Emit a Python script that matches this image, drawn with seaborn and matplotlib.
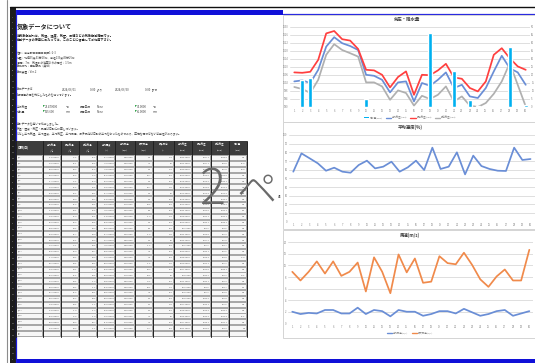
import numpy as np
import pandas as pd
import matplotlib
matplotlib.use("Agg")
import matplotlib.pyplot as plt
import seaborn as sns
from matplotlib.patches import Rectangle, Polygon, Patch
from matplotlib.lines import Line2D

sns.set_theme(style="white")
plt.rcParams['font.family'] = ['Noto Sans CJK JP', 'DejaVu Sans']

W, H = 535, 363

# ---- daily observations, June ----
days = list(range(1, 31))
pressure_max = [1007.3, 1007.1, 1007.6, 1013.6, 1026.8, 1028.0, 1023.9, 1023.2, 1019.0, 1008.6,
                1008.3, 1006.1, 999.8, 1005.0, 1007.8, 996.1, 1006.1, 1005.9, 1008.3, 1011.6,
                1004.8, 1004.1, 999.5, 997.8, 1002.8, 1016.1, 1019.4, 1014.4, 1010.3, 1008.6]
pressure_avg = [1002.8, 1003.3, 1002.0, 1008.6, 1020.2, 1024.9, 1021.9, 1020.5, 1018.5, 1006.1,
                1005.6, 1003.6, 997.3, 1002.3, 1002.8, 992.8, 1002.0, 1000.6, 1003.6, 1007.3,
                999.5, 1001.1, 995.3, 994.5, 999.5, 1007.8, 1015.6, 1009.4, 1007.3, 1001.1]
pressure_min = [1000.0, 999.0, 997.0, 1003.6, 1016.1, 1021.4, 1018.5, 1016.9, 1015.2, 1002.3,
                1002.3, 1000.3, 993.6, 998.3, 997.0, 990.7, 995.6, 994.0, 996.1, 1000.3,
                992.8, 995.3, 990.7, 990.0, 992.0, 996.6, 1002.8, 1011.9, 1001.1, 990.3]
rain = [0.5, 17.0, 18.0, 0.5, 0.0, 0.0, 0.0, 0.0, 0.5, 5.0,
        0.0, 0.0, 0.0, 0.0, 0.5, 0.0, 0.5, 46.0, 0.5, 0.0,
        22.2, 0.5, 4.6, 0.5, 0.0, 0.0, 0.0, 37.3, 0.0, 1.5]
humidity = [57.7, 78.8, 73.1, 67.3, 58.8, 62.3, 57.7, 56.5, 65.4, 70.4,
            61.5, 63.5, 69.2, 57.7, 62.7, 70.4, 59.6, 85.4, 60.8, 63.5,
            80.0, 54.6, 76.2, 64.2, 60.8, 58.8, 58.5, 85.4, 71.2, 72.3]
wind_avg = [2.0, 1.6, 1.8, 1.7, 2.3, 2.3, 1.7, 1.7, 2.7, 1.6,
            2.3, 2.1, 1.2, 2.3, 2.0, 2.0, 1.3, 1.6, 2.1, 2.1,
            1.7, 2.5, 1.9, 1.3, 1.6, 2.1, 2.3, 1.3, 1.7, 2.1]
wind_max = [8.9, 7.4, 8.9, 10.7, 8.6, 10.7, 8.2, 8.9, 10.5, 5.5,
            11.4, 8.9, 5.2, 11.9, 8.8, 11.2, 7.0, 7.2, 11.6, 10.4,
            10.2, 12.2, 10.1, 7.6, 6.3, 8.1, 9.3, 7.4, 7.4, 12.7]
temp_avg = [21.6, 22.4, 20.9, 19.8, 21.7, 22.9, 23.5, 24.1, 23.0, 21.2,
            22.6, 23.8, 24.5, 23.1, 24.0, 22.4, 23.6, 21.8, 24.7, 25.3,
            23.4, 25.8, 24.9, 23.7, 24.4, 25.6, 26.1, 23.3, 24.8, 25.2]
temp_max = [26.5, 27.1, 24.8, 23.9, 26.2, 27.5, 28.3, 29.0, 27.4, 24.6,
            27.0, 28.4, 29.2, 27.7, 28.6, 26.1, 28.0, 24.3, 29.5, 30.1,
            27.2, 30.6, 29.3, 27.9, 28.8, 30.2, 31.0, 26.4, 29.4, 29.9]
temp_min = [17.3, 18.2, 17.9, 16.4, 17.0, 18.6, 19.1, 19.8, 19.2, 18.5,
            18.3, 19.6, 20.4, 19.0, 19.9, 19.5, 19.7, 19.9, 20.3, 21.0,
            20.6, 21.4, 21.2, 20.1, 20.5, 21.3, 21.8, 21.0, 20.7, 21.1]
wind_dir = [120, 90, 120, 180, 180, 160, 90, 180, 180, 180,
            150, 180, 180, 160, 90, 180, 180, 180, 160, 180,
            90, 180, 150, 180, 180, 160, 180, 90, 180, 180]

col_titles = ["日時(日)", "平均気温", "最高気温", "最低気温", "平均湿度", "平均風速",
              "最大風速", "最多風向", "平均気圧", "最高気圧", "最低気圧", "降水量"]
col_units = ["", "(℃)", "(℃)", "(℃)", "(%)", "(m/s)", "(m/s)", "(°)",
             "(hPa)", "(hPa)", "(hPa)", "(mm)"]

chart1_title = "気圧・降水量"
chart1_labels = ["降水量(mm)", "平均気圧(hPa)", "最高気圧(hPa)", "最低気圧(hPa)"]
chart2_title = "平均湿度(%)"
chart3_title = "風速(m/s)"
chart3_labels = ["平均風速(m/s)", "最大風速(m/s)"]

# ---- figure and sheet canvas (pixel coordinates) ----
fig = plt.figure(figsize=(W / 100, H / 100), dpi=100)
fig.patch.set_facecolor("white")
sheet = fig.add_axes([0, 0, 1, 1])
sheet.set_xlim(0, W)
sheet.set_ylim(H, 0)
sheet.axis("off")


def frac(x0, y0, x1, y1):
    return [x0 / W, 1 - y1 / H, (x1 - x0) / W, (y1 - y0) / H]


def pt(px):
    return px * 0.72


# window frame
sheet.plot([7, 7], [0, H], color="#8c8c8c", lw=0.8)
sheet.add_patch(Rectangle((9.5, 7), 6, H - 7, fc="#1c1c1c", ec="none"))
for i, yy in enumerate(np.arange(17, H - 2, 5.9)):
    sheet.text(12.5, yy, str(i + 1), fontsize=1.2, color="#d0d0d0", ha="center", va="center")
sheet.plot([15.8, 15.8], [10, H], color="#1a1adc", lw=0.9)
sheet.plot([9.5, W], [6.6, 6.6], color="#101010", lw=1.0)
sheet.add_patch(Rectangle((15.5, 10.3), 283 - 15.5, 4.5, fc="#1010d8", ec="none"))
sheet.plot([283, W], [13.6, 13.6], color="#2a2ae0", lw=0.9)
sheet.add_patch(Rectangle((15.5, 359.2), W - 15.5, 3.8, fc="#1010d8", ec="none"))

# ---- text block ----
tc = "#222222"
sheet.text(17, 26, "気象データについて", fontsize=pt(6.2), fontweight="bold", color=tc, va="center")
body = ["当気象観測所は、気温、湿度、気圧、風速などの気象観測施設です。",
        "観測データの使用にあたっては、このことに留意してご利用下さい。"]
for k, line in enumerate(body):
    sheet.text(17, 34.7 + 4.6 * k, line, fontsize=pt(3.1), fontweight="bold", color=tc, va="center")
info = ["住所：東京都〇〇区〇〇町1-2-3",
        "位置：北緯35度41分28秒、東経139度45分25秒",
        "標高：7m　気温計の地面からの高さ：1.5m",
        "観測方式：自動観測（無線）",
        "観測装置：Ver.2"]
for k, line in enumerate(info):
    sheet.text(17, 52.7 + 4.6 * k, line, fontsize=pt(2.8), color="#444444", va="center")

for x, s in [(17, "観測データは"), (62, "2024/06/01"), (90, "0:00  より"),
             (115, "2024/06/30"), (145, "0:00  まで")]:
    sheet.text(x, 89.3, s, fontsize=pt(2.8), color="#444444", va="center")
sheet.text(17, 94.3, "1時間毎の値を元にしたものを使っています。", fontsize=pt(2.8),
           color="#444444", va="center")

summary = [("平均気温", f"{np.mean(temp_avg):.6f}", "℃", f"{max(temp_max):.4f}", "℃"),
           ("降水量", f"{sum(rain):.3f}", "mm", f"{max(rain):.4f}", "mm")]
for k, (lab, val, unit, mx, unit2) in enumerate(summary):
    yy = 107.3 + 5 * k
    sheet.text(17, yy, lab, fontsize=pt(2.8), color="#444444", va="center")
    sheet.add_patch(Polygon([[43, yy - 2.2], [45, yy - 2.2], [43, yy - 0.2]], fc="#1f9a3a", ec="none"))
    sheet.text(45, yy, val, fontsize=pt(2.8), color="#444444", va="center")
    sheet.text(66, yy, unit, fontsize=pt(2.8), color="#444444", va="center")
    sheet.text(80, yy, "最高日時", fontsize=pt(2.8), color="#444444", va="center")
    sheet.text(97, yy, "None", fontsize=pt(2.8), color="#444444", va="center")
    sheet.add_patch(Polygon([[135, yy - 2.2], [137, yy - 2.2], [135, yy - 0.2]], fc="#1f9a3a", ec="none"))
    sheet.text(137, yy, mx, fontsize=pt(2.8), color="#444444", va="center")
    sheet.text(153, yy, unit2, fontsize=pt(2.8), color="#444444", va="center")

notes = ["集計データを用いて作成しました。",
         "気温・湿度・気圧・風速は日別に計算しています。",
         "ただし平均気温、平均湿度、平均気圧、平均風速、最多風向は日別の平均を取ったものであり、正確な値ではない可能性があります。"]
for k, line in enumerate(notes):
    sheet.text(17, 124 + 5.2 * k, line, fontsize=pt(2.8), color="#444444", va="center")

# ---- data table ----
col_x = [16, 42.7, 60.7, 78.7, 97.3, 115.3, 134.7, 152.7, 174, 192, 210.7, 228.7, 246.7]
head_top, head_bot = 140.5, 155
row_h = 5.87
n_rows = len(days)
body_bot = head_bot + row_h * (n_rows + 1)

sheet.add_patch(Rectangle((col_x[0], head_top), col_x[-1] - col_x[0], head_bot - head_top,
                          fc="#3d3d3d", ec="none", zorder=2))
for c in range(12):
    cx = (col_x[c] + col_x[c + 1]) / 2
    if c == 0:
        sheet.text(col_x[0] + 2, (head_top + head_bot) / 2, col_titles[c], fontsize=pt(3.0),
                   color="white", va="center", fontweight="bold", zorder=3)
    else:
        sheet.text(cx, head_top + 3.8, col_titles[c], fontsize=pt(2.4), color="white",
                   ha="center", va="center", zorder=3)
        sheet.text(cx, head_top + 10, col_units[c], fontsize=pt(2.4), color="white",
                   ha="center", va="center", zorder=3)

# body: gray grid with white cell interiors
sheet.add_patch(Rectangle((col_x[0], head_bot), col_x[-1] - col_x[0], body_bot - head_bot,
                          fc="#a8a8a8", ec="none", zorder=2))
for r in range(n_rows + 1):
    y0 = head_bot + row_h * r
    for c in range(12):
        sheet.add_patch(Rectangle((col_x[c] + 0.9, y0 + 1.0), col_x[c + 1] - col_x[c] - 1.8,
                                  row_h - 1.9, fc="#f7f7f7", ec="none", zorder=3))
for x in col_x:
    sheet.plot([x, x], [head_top, body_bot], color="#202020", lw=0.7, zorder=4)

columns = [temp_avg, temp_max, temp_min, humidity, wind_avg, wind_max, wind_dir,
           pressure_avg, pressure_max, pressure_min, rain]
formats = ["{:.6f}", "{:.1f}", "{:.1f}", "{:.6f}", "{:.6f}", "{:.1f}", "{:d}",
           "{:.4f}", "{:.1f}", "{:.1f}", "{:.1f}"]
for r in range(n_rows):
    yy = head_bot + row_h * (r + 0.5)
    sheet.text(col_x[0] + 1.5, yy, f"6/{days[r]}", fontsize=pt(2.3), color="#555555",
               va="center", zorder=5)
    for c, (vals, fmt) in enumerate(zip(columns, formats)):
        sheet.text(col_x[c + 2] - 1.2, yy, fmt.format(vals[r]), fontsize=pt(2.3),
                   color="#555555", ha="right", va="center", zorder=5)
sheet.text(col_x[0] + 1.5, head_bot + row_h * (n_rows + 0.5), "計", fontsize=pt(2.3),
           color="#555555", va="center", zorder=5)

# page-break preview watermark (only the part left of the charts shows)
sheet.text(199, 203.5, "2", fontsize=35, color="#6a6a6a", fontweight="light",
           va="baseline", zorder=6)
sheet.text(236, 203.5, "ペ", fontsize=29, color="#6a6a6a", fontweight="light",
           va="baseline", zorder=6)

# chart frames
for y0, y1 in [(14.5, 121.8), (122.2, 229), (230, 337.5)]:
    sheet.add_patch(Rectangle((283, y0), 270, y1 - y0, fc="white", ec="#d4d4d4", lw=0.7, zorder=7))

grid_c = "#d9d9d9"
tick_c = "#7f7f7f"
tick_fs = pt(2.6)
lw_line = 1.25


def style_axis(ax):
    ax.set_facecolor("none")
    for s in ax.spines.values():
        s.set_visible(False)
    ax.grid(axis="y", color=grid_c, lw=0.6)
    ax.grid(axis="x", visible=False)
    ax.tick_params(length=0, labelsize=tick_fs, labelcolor=tick_c, pad=1.2)
    ax.set_xlabel("")
    ax.set_ylabel("")
    ax.set_xticks(days)
    ax.set_xticklabels([str(d) for d in days])
    ax.set_xlim(0.5, 30.5)


# ---- chart 1: pressure lines with rainfall bars ----
df1 = pd.DataFrame({"日": days, "降水量": rain, "平均気圧": pressure_avg,
                    "最高気圧": pressure_max, "最低気圧": pressure_min})
long1 = df1.melt(id_vars="日", value_vars=["平均気圧", "最高気圧", "最低気圧"],
                 var_name="系列", value_name="hPa")
c_blue, c_red, c_gray, c_cyan = "#6a8ed6", "#ff3f3f", "#b0b0b0", "#00b0f0"
ax1 = fig.add_axes(frac(290.3, 27, 529.7, 107))
sns.lineplot(data=long1, x="日", y="hPa", hue="系列", palette=[c_blue, c_red, c_gray],
             lw=lw_line, ax=ax1, legend=False)
style_axis(ax1)
ax1.set_ylim(990, 1030)
ax1.set_yticks(np.arange(990, 1031, 4))
ax1r = ax1.twinx()
sns.barplot(data=df1, x="日", y="降水量", native_scale=True, color=c_cyan, saturation=1,
            width=0.45, ax=ax1r, errorbar=None)
ax1r.set_facecolor("none")
for s in ax1r.spines.values():
    s.set_visible(False)
ax1r.set_ylim(0, 50)
ax1r.set_yticks(np.arange(0, 51, 5))
ax1r.tick_params(length=0, labelsize=tick_fs, labelcolor=tick_c, pad=1.2)
ax1r.set_ylabel("")
ax1r.set_xlim(0.5, 30.5)
ax1r.grid(False)
fig.text(407 / W, 1 - 19.5 / H, chart1_title, fontsize=pt(4.4), fontweight="bold",
         color="#404040", ha="center", va="center")
h1 = [Patch(fc=c_cyan, ec="none"), Line2D([], [], color=c_blue, lw=1),
      Line2D([], [], color=c_red, lw=1), Line2D([], [], color=c_gray, lw=1)]
fig.legend(h1, chart1_labels, loc="center", bbox_to_anchor=(410 / W, 1 - 117.5 / H), ncol=4,
           fontsize=pt(2.4), frameon=False, handlelength=2.2, handleheight=0.5,
           columnspacing=1.2, handletextpad=0.4, labelcolor="#7f7f7f")

# ---- chart 2: humidity ----
df2 = pd.DataFrame({"日": days, "平均湿度": humidity})
ax2 = fig.add_axes(frac(289.2, 135, 534.6, 221.7))
sns.lineplot(data=df2, x="日", y="平均湿度", color="#6a8ed6", lw=lw_line, ax=ax2)
style_axis(ax2)
ax2.set_ylim(0, 100)
ax2.set_yticks(np.arange(0, 101, 10))
fig.text(410 / W, 1 - 127.5 / H, chart2_title, fontsize=pt(4.4), fontweight="bold",
         color="#404040", ha="center", va="center")
fig.text(278.8 / W, 1 - 195 / H, "湿", fontsize=pt(2.4), fontweight="bold",
         color="#404040", ha="center", va="center")

# ---- chart 3: wind speed ----
df3 = pd.DataFrame({"日": days, "平均風速": wind_avg, "最大風速": wind_max})
long3 = df3.melt(id_vars="日", var_name="系列", value_name="m/s")
ax3 = fig.add_axes(frac(288.2, 242.3, 533.4, 323.3))
sns.lineplot(data=long3, x="日", y="m/s", hue="系列", palette=["#6a8ed6", "#f08a4b"],
             lw=lw_line, ax=ax3, legend=False)
style_axis(ax3)
ax3.set_ylim(0, 14)
ax3.set_yticks(np.arange(0, 15, 2))
fig.text(410 / W, 1 - 235.7 / H, chart3_title, fontsize=pt(4.4), fontweight="bold",
         color="#404040", ha="center", va="center")
h3 = [Line2D([], [], color="#6a8ed6", lw=1), Line2D([], [], color="#f08a4b", lw=1)]
fig.legend(h3, chart3_labels, loc="center", bbox_to_anchor=(410 / W, 1 - 333 / H), ncol=2,
           fontsize=pt(2.4), frameon=False, handlelength=2.2, columnspacing=1.5,
           handletextpad=0.4, labelcolor="#7f7f7f")

fig.savefig("out.png", dpi=100, facecolor="white")
